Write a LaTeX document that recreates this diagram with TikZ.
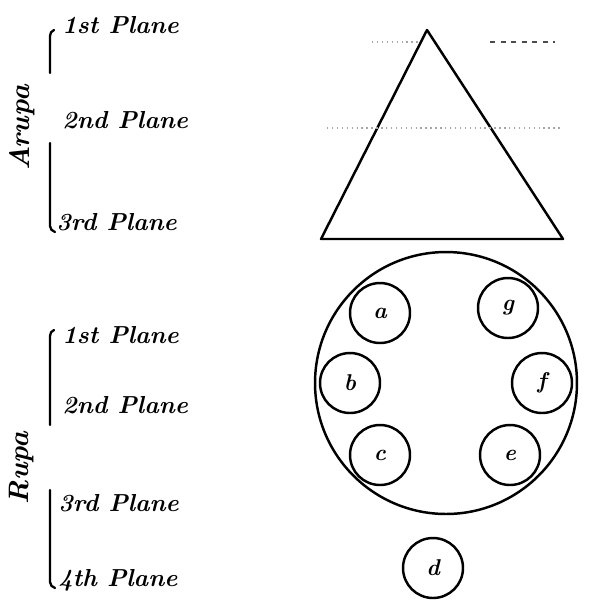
\documentclass[tikz,border=0pt]{standalone}
\usepackage{tikz}
\usetikzlibrary{positioning}
\tikzset{
  plane/.style={anchor=west,inner sep=0pt,font=\fontsize{14}{16}\selectfont\bfseries\itshape},
  realm/.style={rotate=90,inner sep=0pt,font=\fontsize{16}{18}\selectfont\bfseries\itshape},
  brace/.style={draw=black,line width=1.3pt,line cap=round},
  shell/.style={draw=black,line width=1.4pt},
  sphere/.style={circle,draw=black,line width=1.4pt,minimum size=5.24cm,inner sep=0pt},
  globe/.style={circle,draw=black,line width=1.4pt,minimum size=1.2cm,inner sep=0pt,font=\fontsize{13}{15}\selectfont\bfseries\itshape},
  guide/.style={draw=black!35,line width=0.8pt,dotted}
}
\begin{document}
\begin{tikzpicture}[x=0.02cm,y=-0.02cm]
  \useasboundingbox (0,0) rectangle (605,600);

  % arupa planes
  \node[realm] (arupa) at (22,128) {Arupa};
  \node[plane] (ar1) at (62,25) {1st Plane};
  \node[plane] (ar2) at (62,120) {2nd Plane};
  \node[plane] (ar3) at (56,222) {3rd Plane};
  \draw[brace] (54,30) to[out=200,in=90] (50,36) -- (50,73);
  \draw[brace] (50,143) -- (50,226) to[out=-90,in=160] (55,232);

  % rupa planes
  \node[realm] (rupa) at (22,468) {Rupa};
  \node[plane] (ru1) at (62,335) {1st Plane};
  \node[plane] (ru2) at (62,405) {2nd Plane};
  \node[plane] (ru3) at (58,503) {3rd Plane};
  \node[plane] (ru4) at (58,580) {4th Plane};
  \draw[brace] (54,330) to[out=200,in=90] (50,336) -- (50,425);
  \draw[brace] (50,490) -- (50,582) to[out=-90,in=160] (55,588);

  % triangle
  \coordinate (apex) at (427,30);
  \coordinate (bl) at (321,239);
  \coordinate (br) at (563,239);
  \draw[shell,line join=round] (apex) -- (br) -- (bl) -- cycle;
  \draw[guide] (372,42) -- (420,42);
  \draw[guide,draw=black!70,dashed] (490,42) -- (555,42);
  \draw[guide] (327,128) -- (560,128);

  % globes
  \node[sphere] (chain) at (446,383) {};
  \node[globe] (a) at (380,313) {a};
  \node[globe] (g) at (508,308) {g};
  \node[globe] (b) at (350,383) {b};
  \node[globe] (f) at (542,383) {f};
  \node[globe] (c) at (380,455) {c};
  \node[globe] (e) at (510,455) {e};
  \node[globe] (d) at (433,568) {d};
\end{tikzpicture}
\end{document}
